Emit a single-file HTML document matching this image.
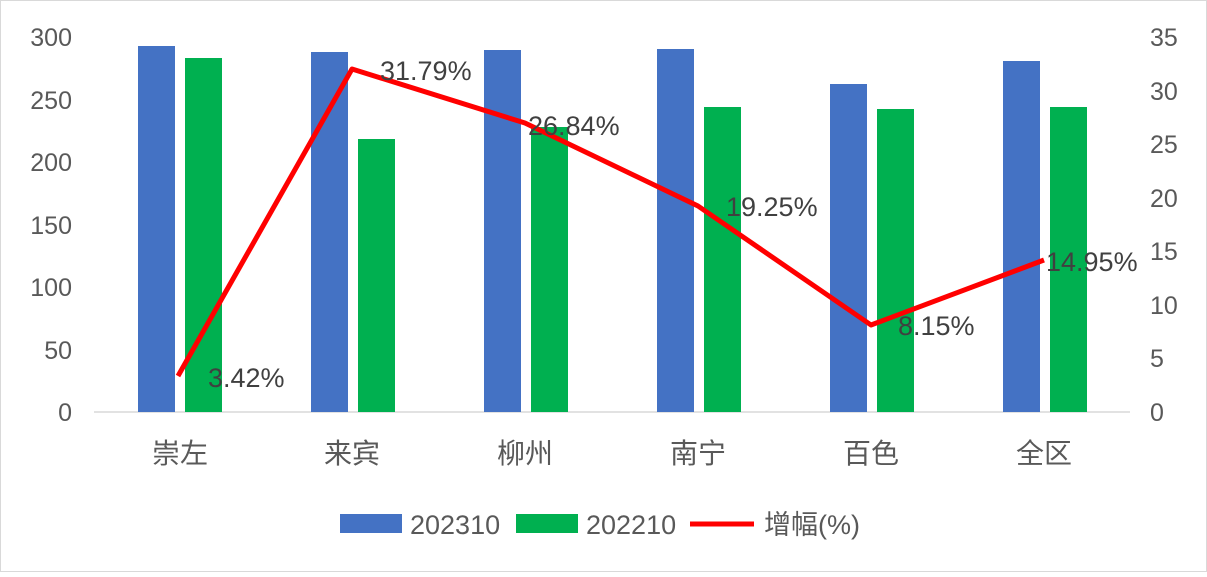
<!DOCTYPE html>
<html><head><meta charset="utf-8"><style>
html,body{margin:0;padding:0;background:#fff}
</style></head><body>
<svg width="1207" height="572" xmlns="http://www.w3.org/2000/svg" font-family="Liberation Sans, Noto Sans CJK SC, sans-serif">
<rect x="0.5" y="0.5" width="1206" height="571" fill="#fff" stroke="#d9d9d9"/>
<line x1="94" y1="412" x2="1130" y2="412" stroke="#d9d9d9" stroke-width="1.5"/>
<g fill="#595959" font-size="25">
<g text-anchor="end">
<text x="72" y="421">0</text><text x="72" y="359">50</text><text x="72" y="296">100</text>
<text x="72" y="234">150</text><text x="72" y="171">200</text><text x="72" y="109">250</text><text x="72" y="46">300</text>
</g>
<g text-anchor="start">
<text x="1150" y="421">0</text><text x="1150" y="367">5</text><text x="1150" y="314">10</text>
<text x="1150" y="260">15</text><text x="1150" y="207">20</text><text x="1150" y="153">25</text>
<text x="1150" y="100">30</text><text x="1150" y="46">35</text>
</g>
<g text-anchor="middle" font-size="28">
<text x="180" y="463">崇左</text><text x="352" y="463">来宾</text><text x="525" y="463">柳州</text>
<text x="698" y="463">南宁</text><text x="871" y="463">百色</text><text x="1044" y="463">全区</text>
</g>
</g>
<g fill="#4472c4">
<rect x="138" y="46" width="37" height="366"/><rect x="311" y="52" width="37" height="360"/>
<rect x="484" y="50" width="37" height="362"/><rect x="657" y="49" width="37" height="363"/>
<rect x="830" y="84" width="37" height="328"/><rect x="1003" y="61" width="37" height="351"/>
</g>
<g fill="#00b050">
<rect x="185" y="58" width="37" height="354"/><rect x="358" y="139" width="37" height="273"/>
<rect x="531" y="127" width="37" height="285"/><rect x="704" y="107" width="37" height="305"/>
<rect x="877" y="109" width="37" height="303"/><rect x="1050" y="107" width="37" height="305"/>
</g>
<polyline points="178,376 352,69 525,123 698,206 871,325 1044,260" fill="none" stroke="#ff0000" stroke-width="5" stroke-linejoin="round"/>
<g fill="#404040" font-size="27">
<text x="208" y="387">3.42%</text><text x="380" y="80">31.79%</text><text x="528" y="135">26.84%</text>
<text x="726" y="216">19.25%</text><text x="898" y="335">8.15%</text><text x="1046" y="271">14.95%</text>
</g>
<rect x="340" y="514" width="62" height="19" fill="#4472c4"/>
<text x="410" y="534" font-size="27" fill="#595959">202310</text>
<rect x="516" y="514" width="62" height="19" fill="#00b050"/>
<text x="586" y="534" font-size="27" fill="#595959">202210</text>
<line x1="690" y1="524" x2="754" y2="524" stroke="#ff0000" stroke-width="5"/>
<text x="764" y="534" font-size="27" fill="#595959">增幅(%)</text>
</svg>
</body></html>
